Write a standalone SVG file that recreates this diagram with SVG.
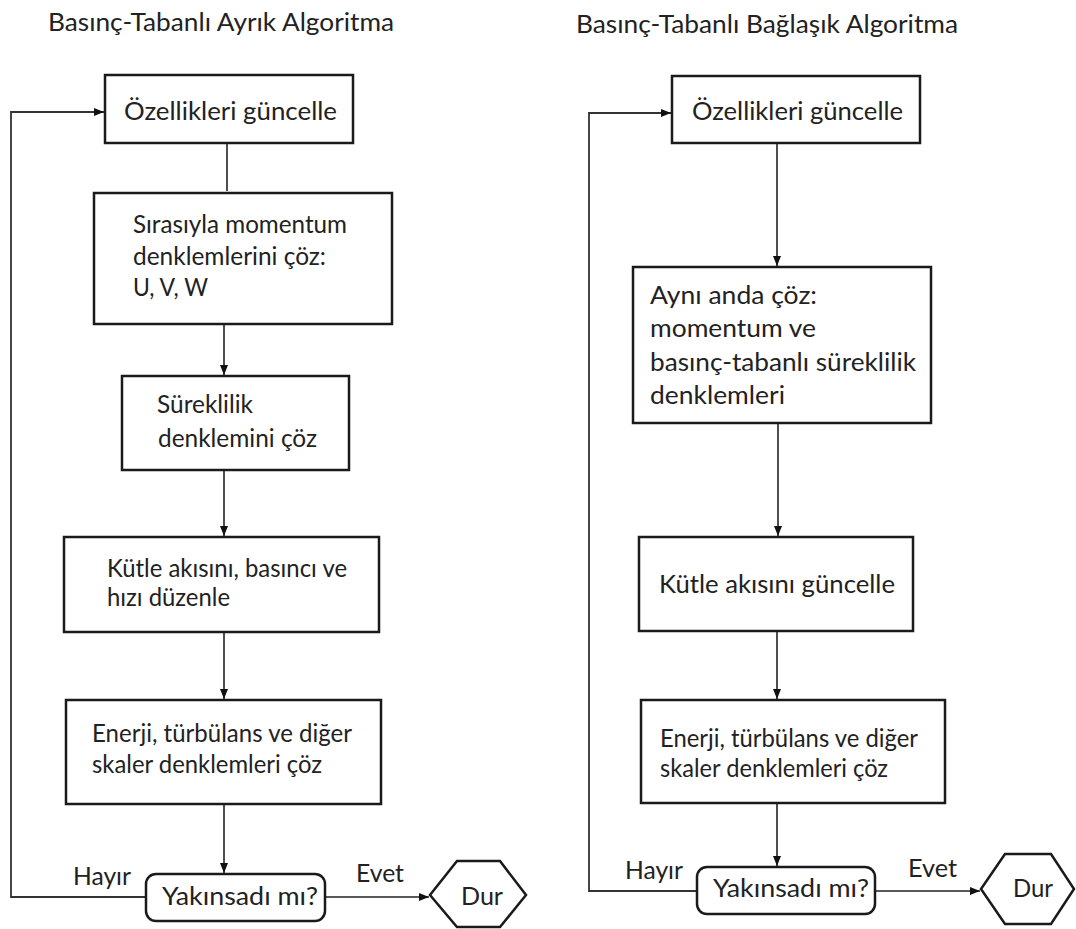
<svg xmlns="http://www.w3.org/2000/svg" width="1076" height="929" viewBox="0 0 1076 929">
<defs>
<marker id="arr" viewBox="0 0 10 8" refX="10" refY="4" markerWidth="10" markerHeight="8" markerUnits="userSpaceOnUse" orient="auto">
<path d="M0,0 L10,4 L0,8 Z" fill="#111"/>
</marker>
<style>
text{font-family:Lato,"Open Sans","Liberation Sans",sans-serif;font-size:24.5px;fill:#222}
.box{fill:#fff;stroke:#1a1a1a;stroke-width:2.5}
.con{fill:none;stroke:#222;stroke-width:1.6}
.loop{fill:none;stroke:#333;stroke-width:1.8}
</style>
</defs>
<rect width="1076" height="929" fill="#fff"/>
<text x="48" y="31" textLength="346" lengthAdjust="spacingAndGlyphs">Basınç-Tabanlı Ayrık Algoritma</text>
<text x="576" y="33" textLength="382" lengthAdjust="spacingAndGlyphs">Basınç-Tabanlı Bağlaşık Algoritma</text>
<g id="connectors">
<line class="con" x1="227" y1="143" x2="227" y2="191"/>
<line class="con" x1="224" y1="324" x2="224" y2="375" marker-end="url(#arr)"/>
<line class="con" x1="224" y1="470" x2="224" y2="536" marker-end="url(#arr)"/>
<line class="con" x1="224" y1="632" x2="224" y2="699" marker-end="url(#arr)"/>
<line class="con" x1="224" y1="805" x2="224" y2="873" marker-end="url(#arr)"/>
<polyline class="loop" points="146,897 11,897 11,112 104,112" marker-end="url(#arr)"/>
<line class="con" x1="325" y1="897" x2="429" y2="897" marker-end="url(#arr)"/>
<line class="con" x1="777" y1="143" x2="777" y2="266" marker-end="url(#arr)"/>
<line class="con" x1="778" y1="423" x2="778" y2="536" marker-end="url(#arr)"/>
<line class="con" x1="777" y1="631" x2="777" y2="699" marker-end="url(#arr)"/>
<line class="con" x1="777" y1="803" x2="777" y2="866" marker-end="url(#arr)"/>
<polyline class="loop" points="697,891 589,891 589,113 671,113" marker-end="url(#arr)"/>
<line class="con" x1="875" y1="891" x2="980" y2="891" marker-end="url(#arr)"/>
</g>
<g id="L1"><rect class="box" x="105" y="75" width="248" height="68"/><text x="124" y="120" textLength="213" lengthAdjust="spacingAndGlyphs">Özellikleri güncelle</text></g>
<g id="L2"><rect class="box" x="94" y="193" width="298" height="131"/><text x="133" y="233" textLength="214" lengthAdjust="spacingAndGlyphs">Sırasıyla momentum</text><text x="133" y="265" textLength="193" lengthAdjust="spacingAndGlyphs">denklemlerini çöz:</text><text x="133" y="296" textLength="75" lengthAdjust="spacingAndGlyphs">U, V, W</text></g>
<g id="L3"><rect class="box" x="122" y="376" width="227" height="94"/><text x="157" y="413" textLength="96" lengthAdjust="spacingAndGlyphs">Süreklilik</text><text x="158" y="447" textLength="159" lengthAdjust="spacingAndGlyphs">denklemini çöz</text></g>
<g id="L4"><rect class="box" x="64" y="537" width="315" height="95"/><text x="107" y="577" textLength="240" lengthAdjust="spacingAndGlyphs">Kütle akısını, basıncı ve</text><text x="107" y="606" textLength="123" lengthAdjust="spacingAndGlyphs">hızı düzenle</text></g>
<g id="L5"><rect class="box" x="66" y="700" width="315" height="104"/><text x="92" y="742" textLength="260" lengthAdjust="spacingAndGlyphs">Enerji, türbülans ve diğer</text><text x="92" y="773" textLength="230" lengthAdjust="spacingAndGlyphs">skaler denklemleri çöz</text></g>
<g id="L6"><rect class="box" x="146" y="874" width="179" height="47" rx="10"/><text x="162" y="905" textLength="156" lengthAdjust="spacingAndGlyphs">Yakınsadı mı?</text></g>
<text x="73" y="885" textLength="58" lengthAdjust="spacingAndGlyphs">Hayır</text>
<text x="356" y="882" textLength="48" lengthAdjust="spacingAndGlyphs">Evet</text>
<g id="L7"><polygon class="box" points="430,895 457,861 500,861 526,895 500,927 457,927"/><text x="461" y="905" textLength="42" lengthAdjust="spacingAndGlyphs">Dur</text></g>
<g id="R1"><rect class="box" x="672" y="76" width="248" height="67"/><text x="692" y="120" textLength="211" lengthAdjust="spacingAndGlyphs">Özellikleri güncelle</text></g>
<g id="R2"><rect class="box" x="633" y="267" width="298" height="156"/><text x="650" y="304" textLength="167" lengthAdjust="spacingAndGlyphs">Aynı anda çöz:</text><text x="650" y="337" textLength="166" lengthAdjust="spacingAndGlyphs">momentum ve</text><text x="650" y="371" textLength="266" lengthAdjust="spacingAndGlyphs">basınç-tabanlı süreklilik</text><text x="650" y="404" textLength="135" lengthAdjust="spacingAndGlyphs">denklemleri</text></g>
<g id="R3"><rect class="box" x="639" y="537" width="274" height="94"/><text x="659" y="593" textLength="236" lengthAdjust="spacingAndGlyphs">Kütle akısını güncelle</text></g>
<g id="R4"><rect class="box" x="641" y="700" width="304" height="103"/><text x="660" y="747" textLength="258" lengthAdjust="spacingAndGlyphs">Enerji, türbülans ve diğer</text><text x="660" y="777" textLength="228" lengthAdjust="spacingAndGlyphs">skaler denklemleri çöz</text></g>
<g id="R5"><rect class="box" x="697" y="867" width="178" height="47" rx="10"/><text x="713" y="897" textLength="156" lengthAdjust="spacingAndGlyphs">Yakınsadı mı?</text></g>
<text x="625" y="879" textLength="58" lengthAdjust="spacingAndGlyphs">Hayır</text>
<text x="908" y="877" textLength="49" lengthAdjust="spacingAndGlyphs">Evet</text>
<g id="R6"><polygon class="box" points="981,889 1005,854 1051,854 1074,889 1051,924 1005,924"/><text x="1013" y="897" textLength="40" lengthAdjust="spacingAndGlyphs">Dur</text></g>
</svg>
